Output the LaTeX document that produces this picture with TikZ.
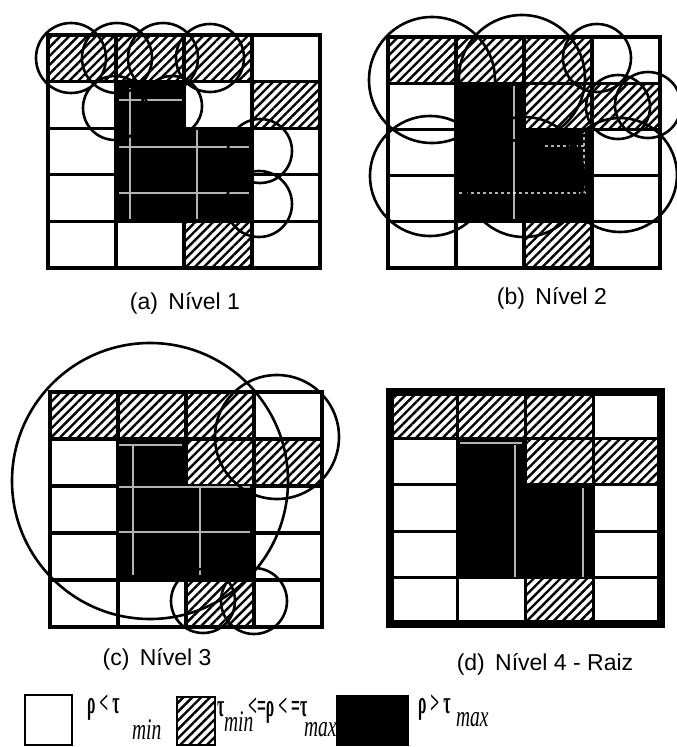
\documentclass[tikz,border=0pt]{standalone}
\usepackage{fontspec}
\setmainfont{Liberation Sans}
\newfontfamily\legfont{Liberation Serif}
\usetikzlibrary{patterns.meta}

\tikzset{
  gridline/.style={line width=3.1pt},
  hatchfill/.style={pattern={Lines[angle=45,distance=6.3pt,line width=2.4pt]}},
  blackfill/.style={fill=black},
  circ/.style={line width=2.6pt},
  lightline/.style={draw=white, opacity=0.7, line width=1.1pt},
  caption/.style={font=\fontsize{23}{27}\selectfont, inner sep=0pt},
  legbox/.style={line width=2.8pt},
  legtext/.style={font=\legfont\bfseries\fontsize{28}{32}\selectfont, inner sep=0pt, anchor=west, xscale=0.56, yscale=1.15},
  legsub/.style={font=\legfont\itshape\fontsize{26}{30}\selectfont, inner sep=0pt, anchor=west, xscale=0.75, yscale=1.15},
}

% #1 x0, #2 y0, #3 cell width, #4 cell height, #5 = 1 if row 2 / col 3 is hatched
\newcommand\gridpanel[5]{%
  \begin{scope}[shift={(#1,#2)}]
  \begin{scope}[x=#3pt,y=-#4pt]
    \fill[blackfill] (1,1) rectangle (2,4);
    \fill[blackfill] (2,2) rectangle (3,4);
    \fill[hatchfill] (0,0) rectangle (3,1);
    \fill[hatchfill] (3,1) rectangle (4,2);
    \fill[hatchfill] (2,4) rectangle (3,5);
    \ifnum#5=1 \fill[hatchfill] (2,1) rectangle (3,2);\fi
    \draw[gridline] (0,0) rectangle (4,5);
    \foreach \i in {1,2,3} \draw[gridline] (\i,0) -- (\i,5);
    \foreach \j in {1,2,3,4} \draw[gridline] (0,\j) -- (4,\j);
  \end{scope}
  \end{scope}}

\begin{document}
\begin{tikzpicture}[x=1pt,y=-1pt]
\useasboundingbox (0,0) rectangle (677,747);

% ---------- (a) Nivel 1 ----------
\gridpanel{48}{35}{68}{46.6}{0}
\draw[lightline] (130,88) -- (130,219) (197,130) -- (197,219)
                 (119,100) -- (182,100) (119,147) -- (249,147) (119,193) -- (249,193);
\draw[circ] (71,58) circle[radius=35pt] (117,58) circle[radius=35pt]
            (163,58) circle[radius=35pt] (210,58) circle[radius=34pt]
            (115,108) circle[radius=32pt] (172,106) circle[radius=30pt]
            (260,151) circle[radius=32pt] (259,204) circle[radius=33pt];
\node[caption] (capa) at (185,303) {(a)\hspace{0.45em}Nível 1};

% ---------- (b) Nivel 2 ----------
\gridpanel{388}{37}{68}{46.2}{1}
\draw[lightline] (514,86) -- (514,219);
\draw[lightline, dashed] (459,193) -- (586,193) (584,131) -- (584,193) (545,146) -- (586,146);
\draw[circ] (432,80) circle[radius=63pt] (522,78) circle[radius=63pt]
            (597,58) circle[radius=34pt] (618,107) circle[radius=32pt]
            (648,105) circle[radius=33pt]
            (430,176) circle[radius=60pt] (524,177) circle[radius=60pt]
            (620,175) circle[radius=57pt];
\node[caption] (capb) at (552,298) {(b)\hspace{0.45em}Nível 2};

% ---------- (c) Nivel 3 ----------
\gridpanel{50}{392}{68}{47}{1}
\draw[lightline] (133,444) -- (133,575) (200,488) -- (200,575)
                 (119,445) -- (182,445) (119,487) -- (250,487) (119,532) -- (250,532);
\draw[circ] (150,481) circle[radius=138pt] (277,437) circle[radius=62pt]
            (203,601) circle[radius=32pt] (254,601) circle[radius=33pt];
\node[caption] (capc) at (157,659) {(c)\hspace{0.45em}Nível 3};

% ---------- (d) Nivel 4 - Raiz ----------
\gridpanel{390}{392}{67.75}{46.4}{1}
\draw[line width=8pt] (390,392) rectangle (661,624);
\draw[lightline] (515,445) -- (515,577) (583,488) -- (583,577) (460,443) -- (522,443);
\node[caption] (capd) at (545,664) {(d)\hspace{0.45em}Nível 4 - Raiz};

% ---------- legend ----------
\draw[legbox] (25,695) rectangle (72,745);
\draw[legbox, hatchfill] (177,697) rectangle (215,745);
\draw[legbox, fill=black] (337,696) rectangle (408,745);
\node[legtext] (l1) at (87,708) {ρ < τ};
\node[legsub] (l1s) at (132,730) {min};
\node[legtext] (l2) at (217,709) {τ};
\node[legsub] (l2s) at (224,722) {min};
\node[legtext] (l2b) at (248,711) {<=ρ < =τ};
\node[legsub] (l2t) at (304,730) {max};
\node[legtext] (l3) at (418,708) {ρ > τ};
\node[legsub] (l3s) at (456,720) {max};
\end{tikzpicture}
\end{document}
